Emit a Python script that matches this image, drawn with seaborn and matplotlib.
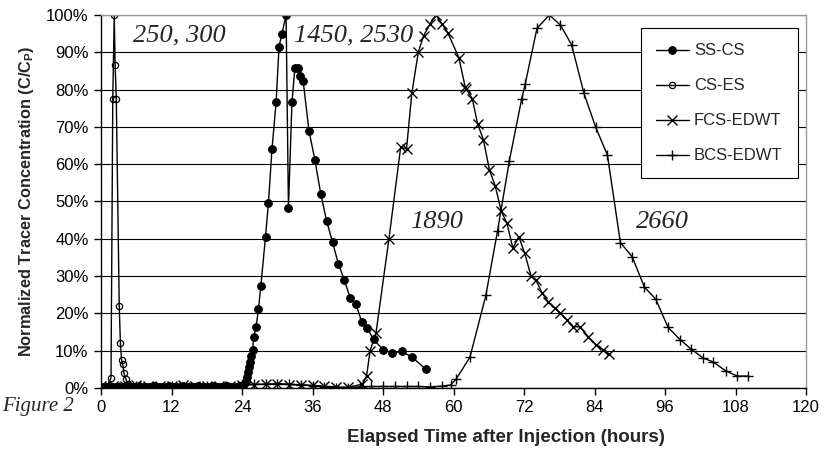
import numpy as np
import pandas as pd
import seaborn as sns
import matplotlib.pyplot as plt

# --- data (hours, % of peak) ---
ss_cs_h = [0.0, 0.5, 1.0, 1.5, 2.0, 2.5, 3.0, 3.5, 4.0, 4.5, 5.0, 5.5, 6.0, 6.5, 7.0, 7.5,
           8.0, 8.5, 9.0, 9.5, 10.0, 10.5, 11.0, 11.5, 12.0, 12.5, 13.0, 13.5, 14.0, 14.5,
           15.0, 15.5, 16.0, 16.5, 17.0, 17.5, 18.0, 18.5, 19.0, 19.5, 20.0, 20.5, 21.0,
           21.5, 22.0, 22.5, 23.0, 23.5,
           24.0, 24.3, 24.6, 24.8, 25.0, 25.2, 25.4, 25.6, 25.8, 26.0, 26.4, 26.8, 27.2,
           28.0, 28.5, 29.1, 29.8, 30.3, 30.8, 31.5, 31.9, 32.5, 33.0, 33.6, 33.9, 34.4,
           35.4, 36.4, 37.4, 38.4, 39.4, 40.4, 41.4, 42.4, 43.4, 44.4, 45.3, 46.4, 48.0,
           49.6, 51.2, 53.0, 55.3]
ss_cs_c = [0.3, 0.2, 0.3, 0.4, 0.3, 0.2, 0.3, 0.3, 0.4, 0.3, 0.2, 0.3, 0.3, 0.4, 0.3, 0.2,
           0.3, 0.3, 0.4, 0.3, 0.2, 0.3, 0.3, 0.4, 0.3, 0.2, 0.3, 0.3, 0.4, 0.3,
           0.2, 0.3, 0.3, 0.4, 0.3, 0.2, 0.3, 0.3, 0.4, 0.3, 0.2, 0.3, 0.3,
           0.4, 0.3, 0.2, 0.3, 0.4,
           0.5, 1.0, 1.8, 3.0, 4.2, 5.5, 7.0, 8.5, 10.2, 13.8, 16.4, 21.2, 27.3,
           40.6, 49.6, 64.1, 76.6, 91.5, 95.0, 100.0, 48.3, 76.6, 85.9, 85.9, 83.7, 82.3,
           68.9, 61.2, 52.0, 44.8, 39.1, 33.3, 29.0, 24.2, 22.4, 17.6, 16.0, 13.0, 10.3,
           9.4, 9.8, 8.2, 5.0]

cs_es_h = [0.0, 0.5, 1.0, 1.7, 2.0, 2.25, 2.4, 2.6, 3.1, 3.3, 3.5, 3.7, 3.9, 4.2, 4.6,
           5.0, 6.0, 7.0, 8.0, 9.0, 10.0, 11.0, 12.0, 13.0, 14.0, 15.0, 16.0, 17.0,
           18.0, 19.0, 20.0, 21.0, 22.0, 23.0]
cs_es_c = [0.0, 0.0, 0.3, 2.7, 77.4, 100.0, 86.6, 77.4, 22.0, 12.0, 7.5, 6.5, 4.0, 2.5, 1.0,
           0.5, 0.4, 0.3, 0.3, 0.2, 0.3, 0.2, 0.3, 0.2, 0.2, 0.3, 0.2, 0.2,
           0.3, 0.2, 0.2, 0.3, 0.2, 0.2]

fcs_h = [0.0, 2.0, 4.0, 6.0, 8.0, 10.0, 12.0, 14.0, 16.0, 18.0, 20.0, 22.0, 24.0, 26.0,
         28.0, 30.0, 32.0, 34.0, 36.0, 38.0, 40.0, 42.0, 44.5, 45.2, 45.8, 46.8, 49.0,
         51.0, 52.0, 52.9, 54.0, 54.9, 56.0, 57.0, 58.0, 59.0, 60.9, 62.0, 62.2, 63.2,
         64.1, 65.1, 66.1, 67.1, 68.1, 69.1, 70.1, 71.1, 72.1, 73.2, 74.0, 75.1, 76.1,
         77.2, 78.1, 79.3, 80.4, 81.5, 82.9, 84.3, 85.5, 86.5]
fcs_c = [0.5, 0.6, 0.5, 0.7, 0.6, 0.5, 0.6, 0.7, 0.6, 0.5, 0.6, 0.6, 0.8, 0.9,
         1.0, 1.0, 0.9, 0.8, 0.7, 0.5, 0.3, 0.2, 1.0, 3.2, 10.0, 14.7, 39.9,
         64.5, 64.1, 79.0, 90.0, 94.4, 97.6, 100.0, 97.7, 95.3, 88.6, 80.6, 80.1, 77.5,
         70.8, 66.5, 58.5, 54.2, 47.5, 44.1, 37.5, 40.6, 36.2, 30.0, 29.0, 25.4, 23.1,
         21.4, 20.2, 18.2, 16.4, 16.4, 13.8, 11.5, 10.2, 9.0]

bcs_h = [0.0, 3.0, 6.0, 9.0, 12.0, 15.0, 18.0, 21.0, 24.0, 26.0, 28.0, 30.0, 32.0, 34.0,
         36.0, 38.0, 40.0, 42.0, 44.0, 46.0, 48.0, 50.0, 52.0, 54.0, 56.0, 58.0, 59.5,
         60.5, 62.8, 65.5, 67.5, 69.5, 71.6, 72.2, 74.2, 76.3, 78.2, 80.1, 82.2, 84.2,
         86.2, 88.4, 90.4, 92.5, 94.4, 96.5, 98.6, 100.4, 102.5, 104.2, 106.3, 108.3, 110.2]
bcs_c = [0.3, 0.3, 0.4, 0.3, 0.4, 0.3, 0.4, 0.3, 0.8, 1.0, 1.0, 1.2, 1.0, 0.9,
         0.6, 0.3, 0.1, 0.1, 0.3, 0.4, 0.4, 0.4, 0.4, 0.4, 0.3, 0.5, 0.8,
         2.5, 8.3, 24.8, 42.2, 60.9, 77.5, 81.5, 96.4, 100.0, 97.3, 92.0, 79.0, 69.9,
         62.4, 39.0, 35.2, 27.0, 23.9, 16.3, 12.9, 10.5, 8.0, 7.0, 4.6, 3.2, 3.2]

series = ['SS-CS', 'CS-ES', 'FCS-EDWT', 'BCS-EDWT']
notes = ['250, 300', '1450, 2530', '1890', '2660']
note_h = [13.4, 43.0, 57.1, 95.5]
note_c = [94.6, 94.4, 44.5, 44.5]

sns.set_theme(style='ticks')
plt.rcParams['font.family'] = ['Liberation Sans', 'DejaVu Sans']
plt.rcParams['mathtext.fontset'] = 'custom'
plt.rcParams['mathtext.bf'] = 'Liberation Sans:bold'

fig = plt.figure(figsize=(8.24, 4.54), dpi=100)
ax = fig.add_axes([0.1226, 0.1454, 0.8556, 0.8216])

common = dict(color='black', linewidth=1.0, estimator=None, sort=False,
              markeredgecolor='black')
sns.lineplot(x=ss_cs_h, y=ss_cs_c, ax=ax, marker='o', markersize=5.5,
             markerfacecolor='black', markeredgewidth=0.8, label=series[0], **common)
sns.lineplot(x=cs_es_h, y=cs_es_c, ax=ax, marker='o', markersize=4.5,
             markerfacecolor='none', markeredgewidth=0.9, label=series[1], **common)
sns.lineplot(x=fcs_h, y=fcs_c, ax=ax, marker='x', markersize=6.5,
             markeredgewidth=1.0, label=series[2], **common)
sns.lineplot(x=bcs_h, y=bcs_c, ax=ax, marker='+', markersize=7.5,
             markeredgewidth=1.0, label=series[3], **common)

ax.set_xlim(0, 120)
ax.set_ylim(0, 100)
ax.set_xticks(np.arange(0, 121, 12))
ax.set_yticks(np.arange(0, 101, 10))
ax.set_yticklabels([f'{v}%' for v in range(0, 101, 10)])
ax.yaxis.grid(True, color='black', linewidth=0.8)
ax.tick_params(axis='both', direction='out', length=5, width=1, colors='black',
               labelsize=12, pad=4)
for side in ['left', 'bottom']:
    ax.spines[side].set_color('black')
    ax.spines[side].set_linewidth(1.0)
for side in ['top', 'right']:
    ax.spines[side].set_visible(True)
    ax.spines[side].set_color('#999999')
    ax.spines[side].set_linewidth(1.0)

ax.set_xlabel('Elapsed Time after Injection (hours)', fontsize=13.5, fontweight='bold')
ax.xaxis.set_label_coords(0.574, -0.11)
ax.set_ylabel(r'Normalized Tracer Concentration (C/C$_\mathbf{P}$)', fontsize=11.8,
              fontweight='bold', labelpad=7)

for t, h, c in zip(notes, note_h, note_c):
    ax.text(h, c, t, ha='center', va='center', fontsize=19, style='italic',
            family=['Liberation Serif', 'DejaVu Serif'])

fig.text(0.003, 0.104, 'Figure 2', ha='left', va='center', fontsize=15, style='italic',
         family=['Liberation Serif', 'DejaVu Serif'])

leg = ax.legend(loc='upper right', bbox_to_anchor=(0.988, 0.964), borderaxespad=0,
                fontsize=12, frameon=True, fancybox=False, labelspacing=1.2,
                handlelength=2.0, handletextpad=0.3, borderpad=0.9)
leg.get_frame().set_edgecolor('black')
leg.get_frame().set_linewidth(0.8)
leg.get_frame().set_alpha(1)

fig.savefig('out.png', dpi=100)
